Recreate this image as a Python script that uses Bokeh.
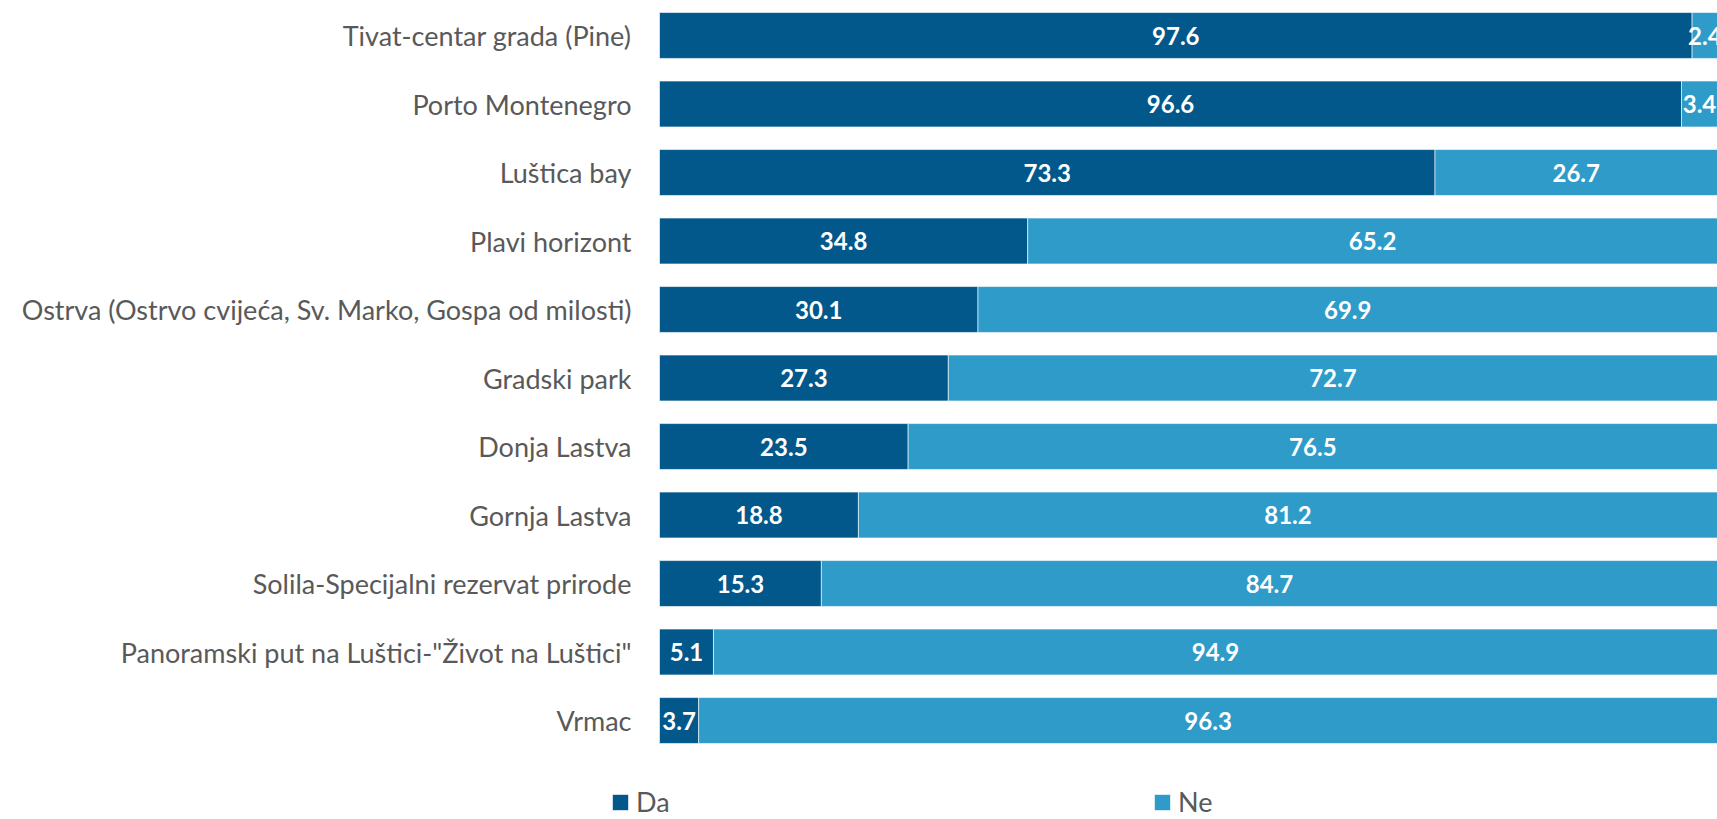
from bokeh.plotting import figure
from bokeh.models import ColumnDataSource, Range1d, FixedTicker, Legend, LegendItem
from bokeh.core.properties import value
from bokeh.embed import file_html
from bokeh.resources import INLINE

categories = ["Tivat-centar grada (Pine)", "Porto Montenegro", "Luštica bay", "Plavi horizont",
              "Ostrva (Ostrvo cvijeća, Sv. Marko, Gospa od milosti)", "Gradski park", "Donja Lastva",
              "Gornja Lastva", "Solila-Specijalni rezervat prirode",
              "Panoramski put na Luštici-\"Život na Luštici\"", "Vrmac"]
da = [97.6, 96.6, 73.3, 34.8, 30.1, 27.3, 23.5, 18.8, 15.3, 5.1, 3.7]
ne = [2.4, 3.4, 26.7, 65.2, 69.9, 72.7, 76.5, 81.2, 84.7, 94.9, 96.3]
series_names = ["Da", "Ne"]

DARK = "#02588A"
LIGHT = "#2E9BC9"
FONT = "Lato"

n = len(categories)
ypos = [n - 1 - i for i in range(n)]

src = ColumnDataSource(dict(
    y=ypos, da=da, ne=ne,
    ne_left=da, ne_right=[a + b for a, b in zip(da, ne)],
    da_x=[a / 2 for a in da], ne_x=[a + b / 2 for a, b in zip(da, ne)],
    da_lbl=[f"{a:.1f}" for a in da], ne_lbl=[f"{b:.1f}" for b in ne],
))

p = figure(width=1717, height=819, output_backend="svg", toolbar_location=None,
           x_range=Range1d(-5.577, 100.0), y_range=Range1d(-1.445, 10.511),
           min_border_left=600, min_border_right=0, min_border_top=0, min_border_bottom=0)
p.outline_line_color = None
p.xgrid.visible = False
p.ygrid.visible = False
p.xaxis.visible = False

r_da = p.hbar(y="y", left=0, right="da", height=0.67, source=src, fill_color=DARK,
              line_color="white", line_width=0.6)
r_ne = p.hbar(y="y", left="ne_left", right="ne_right", height=0.67, source=src,
              fill_color=LIGHT, line_color="white", line_width=0.6)

for xcol, lcol in (("da_x", "da_lbl"), ("ne_x", "ne_lbl")):
    p.text(x=xcol, y="y", text=lcol, source=src, text_align="center", text_baseline="middle",
           text_color="white", text_font=value(FONT), text_font_style="bold",
           text_font_size="24px")

ax = p.yaxis[0]
ax.ticker = FixedTicker(ticks=ypos)
ax.major_label_overrides = {y: c for y, c in zip(ypos, categories)}
ax.axis_line_color = None
ax.major_tick_line_color = None
ax.minor_tick_line_color = None
ax.major_tick_out = 0
ax.major_tick_in = 0
ax.major_label_standoff = -31
ax.major_label_text_font = FONT
ax.major_label_text_font_size = "27px"
ax.major_label_text_color = "#595959"

legend = Legend(items=[LegendItem(label=series_names[0], renderers=[r_da]),
                       LegendItem(label=series_names[1], renderers=[r_ne])],
                location=(10, 1), orientation="horizontal",
                glyph_width=20, glyph_height=20, label_standoff=6, label_width=496,
                spacing=20, padding=0, margin=0,
                label_text_font=FONT, label_text_font_size="27px", label_text_color="#595959",
                border_line_color=None, background_fill_alpha=0)
p.add_layout(legend, "center")

open("out.html", "w").write(file_html(p, INLINE))
